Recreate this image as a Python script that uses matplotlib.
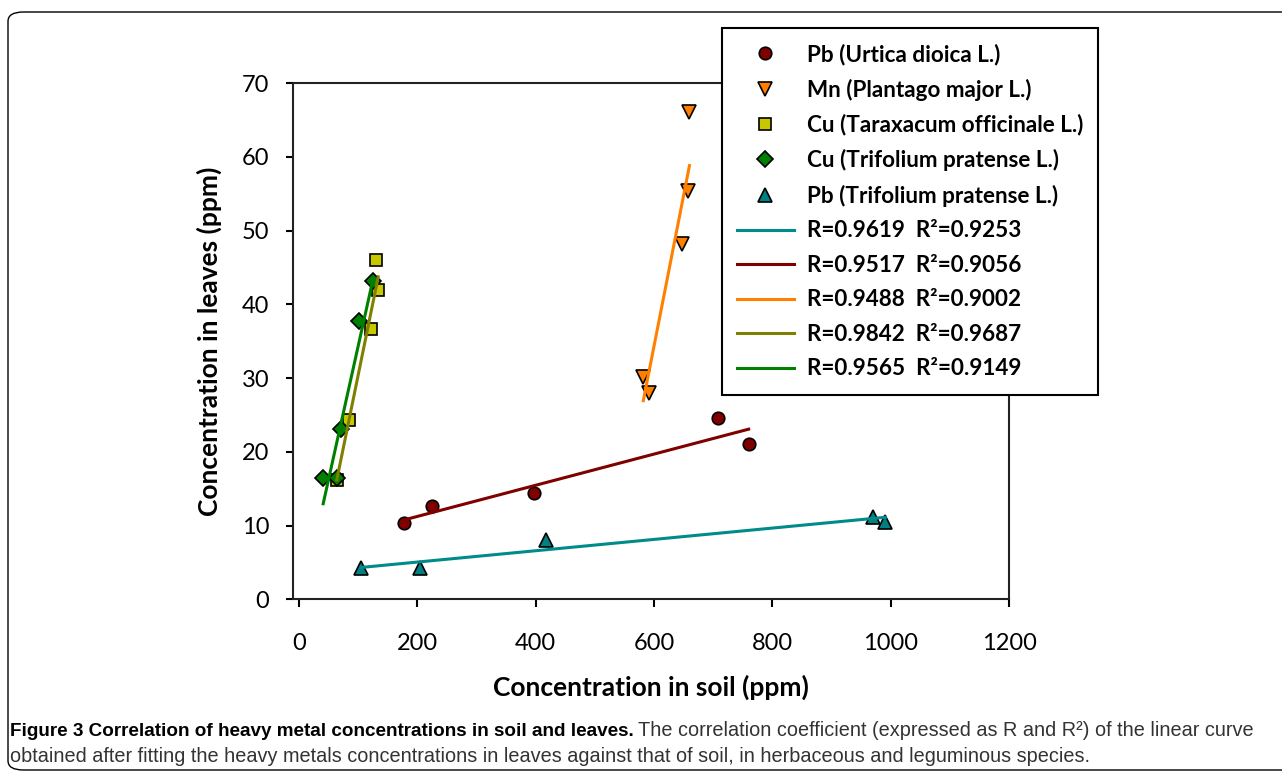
import numpy as np
import matplotlib
matplotlib.use("Agg")
import matplotlib.pyplot as plt
from matplotlib.patches import FancyBboxPatch

# soil (ppm) vs leaves (ppm)
pb_urtica_soil = [178, 225, 398, 709, 760]
pb_urtica_leaf = [10.4, 12.6, 14.4, 24.6, 21.0]

mn_plantago_soil = [660, 657, 648, 582, 591]
mn_plantago_leaf = [66.1, 55.3, 48.2, 30.2, 28.0]

cu_tarax_soil = [130, 134, 122, 84, 64]
cu_tarax_leaf = [46.0, 42.0, 36.6, 24.3, 16.2]

cu_trif_soil = [125, 102, 71, 41, 65]
cu_trif_leaf = [43.1, 37.7, 23.1, 16.4, 16.4]

pb_trif_soil = [105, 204, 418, 970, 991]
pb_trif_leaf = [4.2, 4.2, 8.1, 11.2, 10.5]

series_labels = ["Pb (Urtica dioica L.)", "Mn (Plantago major L.)",
                 "Cu (Taraxacum officinale L.)", "Cu (Trifolium pratense L.)",
                 "Pb (Trifolium pratense L.)"]
fit_labels = ["R=0.9619  R²=0.9253", "R=0.9517  R²=0.9056",
              "R=0.9488  R²=0.9002", "R=0.9842  R²=0.9687",
              "R=0.9565  R²=0.9149"]

font = ["Lato", "DejaVu Sans"]
plt.rcParams["font.family"] = font

fig = plt.figure(figsize=(12.82, 7.76), dpi=100)
ax = fig.add_axes([292.7 / 1282, 1 - 599.3 / 776, (1009 - 292.7) / 1282, (599.3 - 83) / 776])

series = [
    (pb_urtica_soil, pb_urtica_leaf, "o", "#800000", 9),
    (mn_plantago_soil, mn_plantago_leaf, "v", "#ff8000", 10),
    (cu_tarax_soil, cu_tarax_leaf, "s", "#c8c800", 8),
    (cu_trif_soil, cu_trif_leaf, "D", "#008000", 8),
    (pb_trif_soil, pb_trif_leaf, "^", "#008080", 10),
]
marker_handles = []
for (xs, ys, m, c, ms), lab in zip(series, series_labels):
    h, = ax.plot(xs, ys, ls="none", marker=m, ms=ms, mfc=c, mec="black",
                 mew=1.2, zorder=3, label=lab)
    marker_handles.append(h)

# linear fits, legend order: Pb Trif, Pb Urtica, Mn, Cu Tarax, Cu Trif
fit_order = [(4, "#008b8b"), (0, "#800000"), (1, "#ff8000"),
             (2, "#808000"), (3, "#008000")]
line_handles = []
for (i, c), lab in zip(fit_order, fit_labels):
    xs, ys = np.array(series[i][0]), np.array(series[i][1])
    k, b = np.polyfit(xs, ys, 1)
    xx = np.array([xs.min(), xs.max()])
    h, = ax.plot(xx, k * xx + b, color=c, lw=2.2, zorder=4, label=lab)
    line_handles.append(h)

ax.set_xlim(-10.5, 1200)
ax.set_ylim(0, 70)
ax.set_xticks(range(0, 1201, 200))
ax.set_yticks(range(0, 71, 10))
for s in ax.spines.values():
    s.set_linewidth(1.5)
    s.set_color("#222222")
ax.tick_params(axis="x", direction="out", length=6, width=1.5, pad=18, labelsize=17)
ax.tick_params(axis="y", direction="out", length=5, width=1.5, pad=12, labelsize=17)
ax.set_xlabel("Concentration in soil (ppm)", fontsize=19, fontweight="bold", labelpad=15)
ax.set_ylabel("Concentration in leaves (ppm)", fontsize=19, fontweight="bold", labelpad=14)

leg = fig.legend(marker_handles + line_handles, series_labels + fit_labels,
                 loc="upper left", bbox_to_anchor=(722 / 1282, 1 - 28 / 776),
                 borderaxespad=0, fancybox=False, framealpha=1, edgecolor="black",
                 prop={"family": font, "weight": "bold", "size": 16.2},
                 handlelength=2.5, handletextpad=0.58, labelspacing=0.6,
                 borderpad=0.68, numpoints=1)
leg.get_frame().set_linewidth(1.5)
leg.set_zorder(10)

# outer rounded frame
frame = FancyBboxPatch((8 / 1282, 1 - 770 / 776), 1300 / 1282, 758 / 776,
                       boxstyle="round,pad=0,rounding_size=0.012",
                       transform=fig.transFigure, fill=False, lw=1, ec="black")
fig.patches.append(frame)

# caption
cap_font = ["Liberation Sans", "DejaVu Sans"]
t1 = fig.text(10 / 1282, 1 - 731 / 776, "Figure 3 Correlation of heavy metal concentrations in soil and leaves.",
              fontsize=13.6, fontweight="bold", family=cap_font, va="center")
fig.canvas.draw()
bb = t1.get_window_extent(fig.canvas.get_renderer())
fig.text(bb.x1 / 1282 + 4 / 1282, 1 - 731 / 776,
         "The correlation coefficient (expressed as R and R²) of the linear curve",
         fontsize=14.3, family=cap_font, color="#333333", va="center")
fig.text(10 / 1282, 1 - 757 / 776,
         "obtained after fitting the heavy metals concentrations in leaves against that of soil, in herbaceous and leguminous species.",
         fontsize=14.3, family=cap_font, color="#333333", va="center")

fig.savefig("out.png", dpi=100)
